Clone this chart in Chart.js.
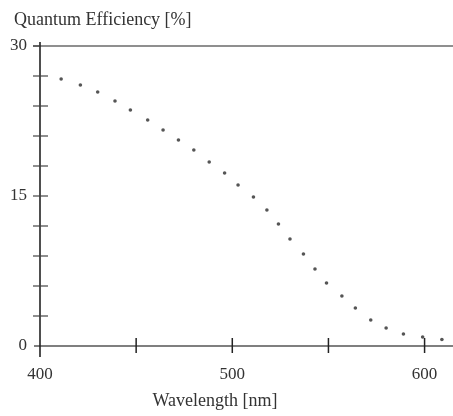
<!DOCTYPE html>
<html>
<head>
<meta charset="utf-8">
<script src="https://cdn.jsdelivr.net/npm/chart.js@4"></script>
<style>
  html, body { margin: 0; padding: 0; background: #fff; }
  #wrap { width: 453px; height: 416px; position: relative; }
</style>
</head>
<body>
<div id="wrap"><canvas id="c" width="453" height="416"></canvas></div>
<script>
const yTitle = 'Quantum Efficiency [%]';
const xTitle = 'Wavelength [nm]';
const xLabeled = [400, 500, 600];
const yLabeled = [0, 15, 30];
const wavelengths = [411, 421, 430, 439, 447, 456, 464, 472, 480, 488, 496, 503, 511, 518, 524, 530, 537, 543, 549, 557, 564, 572, 580, 589, 599, 609];
const efficiency  = [26.7, 26.1, 25.4, 24.5, 23.6, 22.6, 21.6, 20.6, 19.6, 18.4, 17.3, 16.1, 14.9, 13.6, 12.2, 10.7, 9.2, 7.7, 6.3, 5.0, 3.8, 2.6, 1.8, 1.2, 0.9, 0.65];

const SERIF = '"Liberation Serif", "DejaVu Serif", serif';

const axesPlugin = {
  id: 'axesDeco',
  afterDraw(chart) {
    const ctx = chart.ctx;
    const xs = chart.scales.x, ys = chart.scales.y;
    const x0 = xs.getPixelForValue(400);
    const y0 = ys.getPixelForValue(0);
    const yTop = ys.getPixelForValue(30);
    ctx.save();
    // top frame line
    ctx.strokeStyle = '#6a6a6a';
    ctx.lineWidth = 1.3;
    ctx.beginPath(); ctx.moveTo(33, yTop); ctx.lineTo(chart.width, yTop); ctx.stroke();
    // x axis line
    ctx.strokeStyle = '#555';
    ctx.lineWidth = 1.3;
    ctx.beginPath(); ctx.moveTo(34, y0); ctx.lineTo(chart.width, y0); ctx.stroke();
    // y axis line
    ctx.strokeStyle = '#222';
    ctx.lineWidth = 1.6;
    ctx.beginPath(); ctx.moveTo(x0, yTop - 4); ctx.lineTo(x0, y0 + 11); ctx.stroke();
    // y ticks
    ctx.strokeStyle = '#444';
    ctx.lineWidth = 1.2;
    ys.ticks.forEach(t => {
      if (t.value === 0) return;
      const py = ys.getPixelForValue(t.value);
      ctx.beginPath();
      ctx.moveTo(33, py);
      ctx.lineTo(t.value === 30 ? x0 : 48, py);
      ctx.stroke();
    });
    // x ticks
    ctx.strokeStyle = '#222';
    ctx.lineWidth = 1.5;
    xs.ticks.forEach(t => {
      if (t.value === 400 || t.value % 50 !== 0) return;
      const px = xs.getPixelForValue(t.value);
      ctx.beginPath(); ctx.moveTo(px, y0 - 8); ctx.lineTo(px, y0 + 7); ctx.stroke();
    });
    // titles
    ctx.fillStyle = '#333';
    ctx.font = '18px ' + SERIF;
    ctx.textBaseline = 'alphabetic';
    ctx.textAlign = 'left';
    ctx.fillText(yTitle, 14, 25);
    ctx.textAlign = 'center';
    ctx.fillText(xTitle, 215, 406);
    ctx.restore();
  }
};

new Chart(document.getElementById('c'), {
  type: 'scatter',
  data: {
    datasets: [{
      data: wavelengths.map((w, i) => ({ x: w, y: efficiency[i] })),
      pointRadius: 1.8,
      pointBorderWidth: 0,
      pointBackgroundColor: '#555',
      pointBorderColor: '#555',
      showLine: false
    }]
  },
  options: {
    responsive: false,
    animation: false,
    events: [],
    layout: { padding: { top: 46, left: 0, right: 0, bottom: 0 } },
    plugins: { legend: { display: false }, tooltip: { enabled: false }, title: { display: false } },
    scales: {
      x: {
        type: 'linear',
        min: 400, max: 612.7,
        grid: { display: false },
        border: { display: false },
        afterFit(s) { s.height = 70; },
        ticks: {
          stepSize: 50,
          includeBounds: false,
          autoSkip: false,
          maxRotation: 0,
          padding: 10,
          color: '#333',
          font: { family: SERIF, size: 17 },
          callback: v => xLabeled.includes(v) ? String(v) : ''
        }
      },
      y: {
        min: 0, max: 30,
        grid: { display: false },
        border: { display: false },
        afterFit(s) { s.width = 40; },
        ticks: {
          stepSize: 3,
          autoSkip: false,
          padding: 5,
          color: '#333',
          font: { family: SERIF, size: 17 },
          callback: v => yLabeled.includes(v) ? String(v) : ''
        }
      }
    }
  },
  plugins: [axesPlugin]
});
</script>
</body>
</html>
